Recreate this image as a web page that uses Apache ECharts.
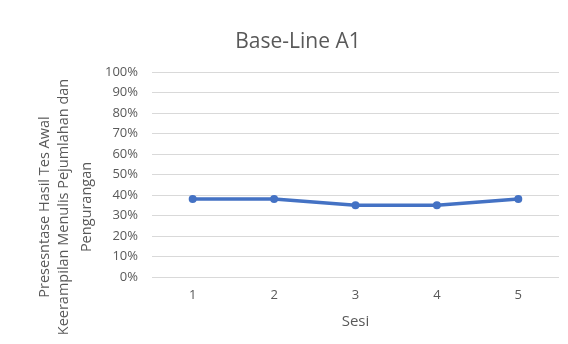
<!DOCTYPE html>
<html>
<head>
<meta charset="utf-8">
<script src="https://cdn.jsdelivr.net/npm/echarts@6/dist/echarts.min.js"></script>
<style>
  html, body {margin: 0; padding: 0; background: #fff;}
  #chart {width: 568px; height: 344px;}
</style>
</head>
<body>
<div id="chart"></div>
<script>
const sessions = ['1', '2', '3', '4', '5']
const scores = [38, 38, 35, 35, 38]
const yNameLines = ['Presesntase Hasil Tes Awal', 'Keerampilan Menulis Pejumlahan dan', 'Pengurangan']

const font = '"Open Sans", "Noto Sans", sans-serif'
const grey = '#595959'

let myChart = echarts.init(document.getElementById('chart'))
myChart.setOption({
    animation: false,
    title: {
        text: 'Base-Line A1',
        left: 293,
        top: 27,
        textAlign: 'center',
        textStyle: {fontFamily: font, fontSize: 21, fontWeight: 'normal', color: grey}
    },
    grid: {left: 152, right: 9, top: 72, bottom: 67},
    xAxis: {
        type: 'category',
        data: sessions,
        boundaryGap: true,
        name: 'Sesi',
        nameLocation: 'middle',
        nameGap: 37,
        nameTextStyle: {fontFamily: font, fontSize: 15, color: grey},
        axisLine: {show: false},
        axisTick: {show: false},
        axisLabel: {fontFamily: font, fontSize: 13, color: grey, margin: 12}
    },
    yAxis: {
        type: 'value',
        min: 0,
        max: 100,
        interval: 10,
        axisLine: {show: false},
        axisTick: {show: false},
        axisLabel: {fontFamily: font, fontSize: 13, color: grey, margin: 14, formatter: '{value}%'},
        splitLine: {lineStyle: {color: '#d9d9d9', width: 1}}
    },
    graphic: yNameLines.map((t, i) => ({
        type: 'text',
        x: [45, 64, 87][i],
        y: 207,
        rotation: Math.PI / 2,
        style: {
            text: t,
            fontFamily: font,
            fontSize: 14.5,
            fill: grey,
            align: 'center',
            verticalAlign: 'middle'
        }
    })),
    series: [{
        type: 'line',
        data: scores,
        symbol: 'circle',
        symbolSize: 8,
        lineStyle: {color: '#4472C4', width: 3.5},
        itemStyle: {color: '#4472C4'}
    }]
})
</script>
</body>
</html>
